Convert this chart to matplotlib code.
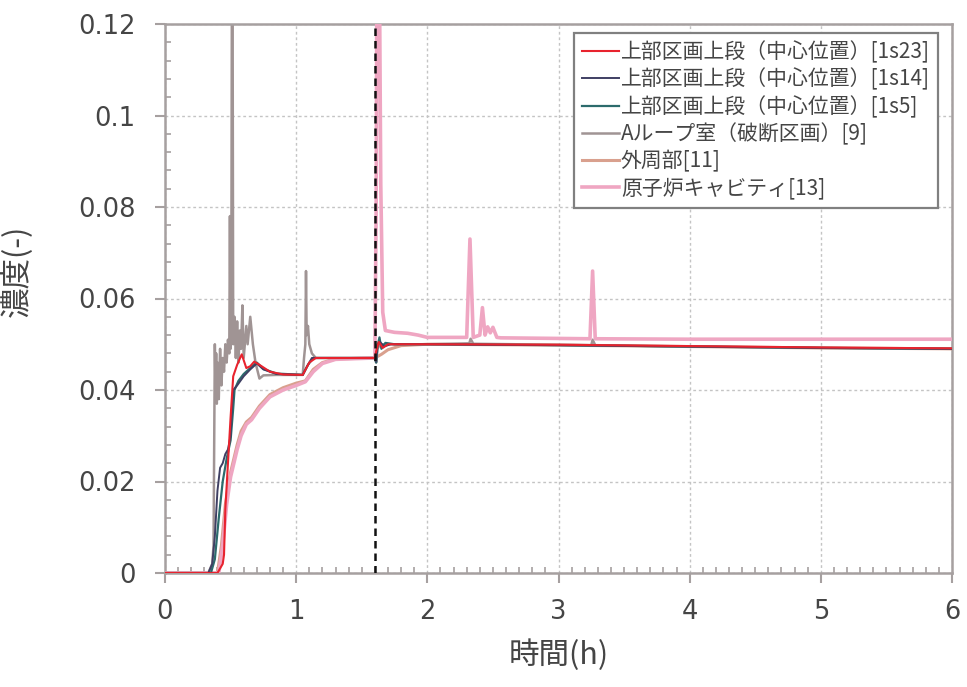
import matplotlib
matplotlib.use("Agg")
import matplotlib.pyplot as plt
from matplotlib.ticker import MultipleLocator

plt.rcParams['font.family'] = ['Noto Sans CJK JP', 'DejaVu Sans']

# ---------------- data ----------------
labels = ["上部区画上段（中心位置）[1s23]",
          "上部区画上段（中心位置）[1s14]",
          "上部区画上段（中心位置）[1s5]",
          "Aループ室（破断区画）[9]",
          "外周部[11]",
          "原子炉キャビティ[13]"]

t_red = [0, 0.40, 0.44, 0.45, 0.46, 0.48, 0.50, 0.52, 0.55, 0.585, 0.62, 0.65, 0.68,
         0.72, 0.80, 0.90, 1.05, 1.10, 1.15, 1.25, 1.60, 1.61, 1.63, 1.66, 1.70, 1.80,
         2.0, 3.0, 4.0, 5.0, 6.0]
c_red = [0, 0, 0.002, 0.004, 0.014, 0.024, 0.034, 0.043, 0.0455, 0.0478, 0.0448, 0.0452,
         0.0462, 0.0455, 0.0440, 0.0434, 0.0433, 0.0460, 0.0470, 0.0470, 0.0470, 0.0485,
         0.0505, 0.0492, 0.0500, 0.0500, 0.0500, 0.0499, 0.0496, 0.0493, 0.0491]

t_navy = [0, 0.33, 0.36, 0.38, 0.40, 0.42, 0.44, 0.46, 0.48, 0.50, 0.51, 0.52, 0.55,
          0.60, 0.65, 0.70, 0.75, 0.85, 1.05, 1.08, 1.12, 1.20, 1.60, 1.61, 1.62, 1.64,
          1.67, 1.72, 1.80, 2.0, 3.0, 4.0, 5.0, 6.0]
c_navy = [0, 0, 0.002, 0.008, 0.018, 0.023, 0.024, 0.026, 0.027, 0.030, 0.036, 0.040,
          0.041, 0.043, 0.0445, 0.0458, 0.0445, 0.0435, 0.0433, 0.0450, 0.0470, 0.0470,
          0.0470, 0.0462, 0.0500, 0.0505, 0.0495, 0.0500, 0.0500, 0.0500, 0.0498, 0.0495,
          0.0492, 0.0490]

t_teal = [0, 0.35, 0.38, 0.41, 0.44, 0.47, 0.50, 0.52, 0.53, 0.56, 0.60, 0.65, 0.70,
          0.75, 0.85, 1.05, 1.09, 1.13, 1.20, 1.60, 1.61, 1.62, 1.635, 1.65, 1.68, 1.75,
          2.0, 3.0, 4.0, 5.0, 6.0]
c_teal = [0, 0, 0.003, 0.012, 0.020, 0.025, 0.029, 0.036, 0.040, 0.042, 0.0435, 0.0448,
          0.0460, 0.0446, 0.0436, 0.0433, 0.0455, 0.0470, 0.0470, 0.0470, 0.0460, 0.0495,
          0.0515, 0.0490, 0.0503, 0.0500, 0.0500, 0.0498, 0.0495, 0.0492, 0.0490]

t_gray = [0, 0.33, 0.36, 0.37, 0.38, 0.385, 0.39, 0.395, 0.40, 0.41, 0.42, 0.43, 0.44,
          0.45, 0.46, 0.47, 0.48, 0.49, 0.495, 0.50, 0.505, 0.51, 0.515, 0.52, 0.53,
          0.54, 0.55, 0.56, 0.57, 0.58, 0.59, 0.60, 0.62, 0.63, 0.65, 0.67, 0.69, 0.72,
          0.75, 0.85, 1.05, 1.06, 1.07, 1.075, 1.08, 1.09, 1.10, 1.12, 1.15, 1.60, 1.61,
          1.62, 1.64, 1.70, 2.0, 2.32, 2.33, 2.35, 3.0, 3.25, 3.26, 3.28, 4.0, 5.0, 6.0]
c_gray = [0, 0, 0.002, 0.006, 0.050, 0.040, 0.048, 0.037, 0.046, 0.038, 0.049, 0.041,
          0.047, 0.044, 0.050, 0.046, 0.051, 0.048, 0.078, 0.049, 0.052, 0.130, 0.130,
          0.050, 0.056, 0.047, 0.055, 0.046, 0.053, 0.049, 0.0585, 0.047, 0.054, 0.050,
          0.056, 0.050, 0.046, 0.0425, 0.0432, 0.0433, 0.0433, 0.047, 0.050, 0.066,
          0.052, 0.054, 0.050, 0.048, 0.047, 0.047, 0.046, 0.049, 0.0500, 0.0500, 0.0500,
          0.0502, 0.0512, 0.0501, 0.0499, 0.0498, 0.0510, 0.0498, 0.0495, 0.0492, 0.0490]

t_salmon = [0, 0.40, 0.43, 0.46, 0.50, 0.55, 0.58, 0.62, 0.66, 0.72, 0.80, 0.90, 1.00,
            1.07, 1.13, 1.20, 1.30, 1.60, 1.65, 1.70, 1.80, 2.0, 3.0, 4.0, 5.0, 6.0]
c_salmon = [0, 0, 0.006, 0.015, 0.022, 0.028, 0.031, 0.033, 0.034, 0.0365, 0.039, 0.0405,
            0.0415, 0.0420, 0.0445, 0.0460, 0.0468, 0.0470, 0.0478, 0.0488, 0.0497, 0.0500,
            0.0498, 0.0495, 0.0492, 0.0490]

t_pink = [0, 0.41, 0.44, 0.47, 0.50, 0.55, 0.58, 0.62, 0.66, 0.72, 0.80, 0.90, 1.00,
          1.07, 1.13, 1.20, 1.30, 1.60, 1.61, 1.615, 1.635, 1.645, 1.66, 1.68, 1.75,
          1.85, 1.93, 2.0, 2.30, 2.325, 2.35, 2.40, 2.42, 2.44, 2.46, 2.48, 2.50, 2.53,
          2.56, 3.24, 3.26, 3.28, 4.0, 5.0, 6.0]
c_pink = [0, 0, 0.006, 0.015, 0.021, 0.027, 0.030, 0.0325, 0.0335, 0.036, 0.0385, 0.040,
          0.041, 0.0418, 0.044, 0.0458, 0.0467, 0.0470, 0.080, 0.130, 0.130, 0.085, 0.057,
          0.0530, 0.0526, 0.0524, 0.0520, 0.0515, 0.0515, 0.0730, 0.0515, 0.0520, 0.0580,
          0.0520, 0.0538, 0.0525, 0.0537, 0.0515, 0.0514, 0.0512, 0.0660, 0.0512, 0.0511,
          0.0511, 0.0511]

marker_time = 1.6

x_ticks = [0, 1, 2, 3, 4, 5, 6]
x_tick_labels = ["0", "1", "2", "3", "4", "5", "6"]
y_ticks = [0, 0.02, 0.04, 0.06, 0.08, 0.1, 0.12]
y_tick_labels = ["0", "0.02", "0.04", "0.06", "0.08", "0.1", "0.12"]

# ---------------- figure ----------------
fig = plt.figure(figsize=(9.67, 6.87), dpi=100)
ax = fig.add_axes([165/967, 1-573/687, (952-165)/967, (573-24)/687])

series = [
    (t_salmon, c_salmon, "#d9a08e", 2.2, labels[4], 3),
    (t_pink, c_pink, "#efa6c2", 2.6, labels[5], 4),
    (t_gray, c_gray, "#a09494", 1.8, labels[3], 2),
    (t_teal, c_teal, "#2c6b6c", 1.6, labels[2], 5),
    (t_navy, c_navy, "#3f3f63", 1.4, labels[1], 6),
    (t_red, c_red, "#e8232e", 1.5, labels[0], 7),
]
handles = {}
for t, c, col, lw, lab, z in series:
    h, = ax.plot(t, c, color=col, lw=lw, label=lab, zorder=z, solid_joinstyle='round')
    handles[lab] = h

ax.axvline(marker_time, color="#111111", lw=1.8, ls=(0, (3, 2)), zorder=8)

ax.set_xlim(0, 6)
ax.set_ylim(0, 0.12)
ax.xaxis.set_minor_locator(MultipleLocator(0.1))
ax.yaxis.set_minor_locator(MultipleLocator(0.004))

ax.grid(True, which='major', color="#c4c4c4", ls=(0, (2, 2)), lw=1.0, zorder=0)
for s in ax.spines.values():
    s.set_color("#a6a0a0")
    s.set_linewidth(1.8)

ax.tick_params(axis='both', which='major', direction='out', length=7, width=1.5,
               color="#a6a0a0")
ax.tick_params(axis='x', which='major', pad=12)
ax.tick_params(axis='y', which='major', pad=14)
ax.tick_params(axis='both', which='minor', direction='in', length=4, width=1.2,
               color="#a6a0a0")

tick_font = dict(family='DejaVu Sans', size=18.5, color="#454545")
ax.set_xticks(x_ticks)
ax.set_xticklabels(x_tick_labels, fontdict=tick_font)
ax.set_yticks(y_ticks)
ax.set_yticklabels(y_tick_labels, fontdict=tick_font)

ax.set_xlabel("時間(h)", fontsize=22, color="#454545", labelpad=10)
ax.set_ylabel("濃度(-)", fontsize=22, color="#454545", labelpad=16)
ax.yaxis.set_label_coords(-0.168, 0.55)

leg = ax.legend([handles[l] for l in labels], labels, loc='upper right',
                bbox_to_anchor=(0.982, 0.984), borderaxespad=0, fontsize=15,
                frameon=True, fancybox=False, edgecolor="#808080", framealpha=1,
                labelspacing=0.24, handlelength=1.75, handletextpad=0.1,
                borderpad=0.38, labelcolor="#454545")
leg.get_frame().set_linewidth(1.6)
leg.set_zorder(10)

fig.savefig("out.png", dpi=100)
